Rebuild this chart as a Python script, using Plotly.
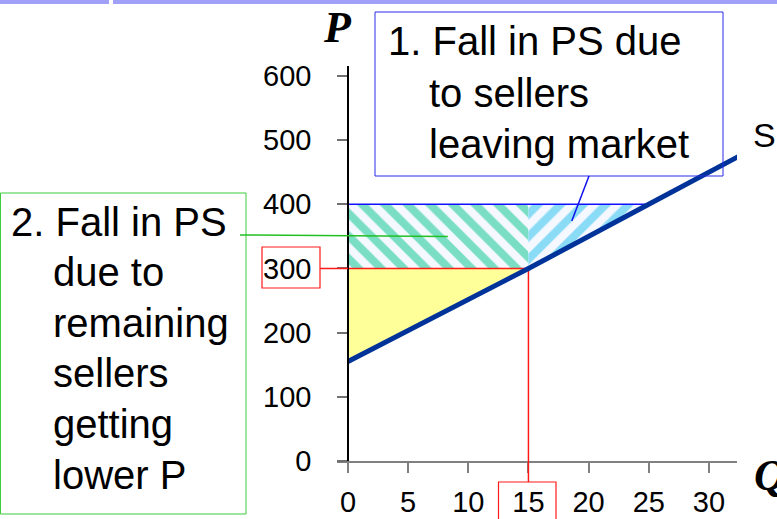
import plotly.graph_objects as go

# ---------------- data ----------------
q_ticks = [0, 5, 10, 15, 20, 25, 30]
p_ticks = [0, 100, 200, 300, 400, 500, 600]

supply_q = [0, 15, 25, 33.3]
supply_p = [155, 300, 400, 483]

q_new, p_new = 15, 300      # remaining quantity / new price
q_old, p_old = 25, 400      # old quantity / old price

green_text = ["2. Fall in PS", "due to", "remaining", "sellers", "getting", "lower P"]
blue_text = ["1. Fall in PS due", "to sellers", "leaving market"]

# ---------------- geometry ----------------
W, H = 777, 519
L, R, T, B = 337, 40, 66, 58
PW, PH = W - L - R, H - T - B
PX_PER_Q = 12.03
PX_PER_P = 0.6417
XMIN = -11 / PX_PER_Q
XMAX = XMIN + PW / PX_PER_Q
YMIN = 0
YMAX = PH / PX_PER_P


def px_x(px):
    return (px - L) / PW


def px_y(py):
    return (H - B - py) / PH


def dx(q):
    return (q - XMIN) / (XMAX - XMIN)


def dy(p):
    return (p - YMIN) / (YMAX - YMIN)


FONT = "Liberation Sans"
SERIF = "Liberation Serif"
GREEN = "#3ccc3c"
BLUE = "#2a2ae6"
RED = "#ff1a1a"

fig = go.Figure()

# yellow: remaining PS
fig.add_trace(go.Scatter(
    x=[0, 0, q_new, 0], y=[supply_p[0], p_new, p_new, supply_p[0]],
    fill="toself", fillcolor="#ffff99", line=dict(width=0), mode="lines",
    hoverinfo="skip"))

# green hatched rectangle
fig.add_trace(go.Scatter(
    x=[0, q_new, q_new, 0, 0], y=[p_new, p_new, p_old, p_old, p_new],
    fill="toself", fillcolor="rgba(0,0,0,0)", line=dict(width=0), mode="lines",
    fillpattern=dict(shape="\\", fgcolor="#00c389", bgcolor="#f5f8ff",
                     size=16, solidity=0.5),
    hoverinfo="skip"))

# cyan hatched triangle
fig.add_trace(go.Scatter(
    x=[q_new, q_new, q_old, q_new], y=[p_new, p_old, p_old, p_new],
    fill="toself", fillcolor="rgba(0,0,0,0)", line=dict(width=0), mode="lines",
    fillpattern=dict(shape="/", fgcolor="#20c0ee", bgcolor="#f5f8ff",
                     size=16, solidity=0.5),
    hoverinfo="skip"))

# old price line
fig.add_trace(go.Scatter(x=[0, q_old], y=[p_old, p_old], mode="lines",
                         line=dict(color="#1010ff", width=1.5), hoverinfo="skip"))

# red guide lines
fig.add_trace(go.Scatter(x=[0, q_new, q_new], y=[p_new, p_new, 0], mode="lines",
                         line=dict(color=RED, width=1.5), hoverinfo="skip"))

# supply
fig.add_trace(go.Scatter(x=supply_q, y=supply_p, mode="lines",
                         line=dict(color="#003399", width=5), hoverinfo="skip"))

shapes = []
# top bar
shapes.append(dict(type="rect", xref="paper", yref="paper",
                   x0=px_x(0), x1=px_x(109), y0=px_y(0), y1=px_y(4),
                   fillcolor="#a0a0f8", line=dict(width=0), layer="above"))
shapes.append(dict(type="rect", xref="paper", yref="paper",
                   x0=px_x(113), x1=px_x(777), y0=px_y(0), y1=px_y(4),
                   fillcolor="#a0a0f8", line=dict(width=0), layer="above"))
# green box and leader
shapes.append(dict(type="rect", xref="paper", yref="paper",
                   x0=px_x(0.5), x1=px_x(246), y0=px_y(193), y1=px_y(514),
                   line=dict(color=GREEN, width=1)))
shapes.append(dict(type="line", xref="paper", yref="paper",
                   x0=px_x(240), y0=px_y(235), x1=dx(8.3), y1=dy(350),
                   line=dict(color="#22c022", width=1.5)))
# blue box and leader
shapes.append(dict(type="rect", xref="paper", yref="paper",
                   x0=px_x(375), x1=px_x(723), y0=px_y(12), y1=px_y(176),
                   line=dict(color=BLUE, width=1)))
shapes.append(dict(type="line", xref="paper", yref="paper",
                   x0=px_x(589), y0=px_y(176), x1=dx(18.6), y1=dy(374),
                   line=dict(color="#1010ee", width=1.5)))
# red boxes and connectors
shapes.append(dict(type="rect", xref="paper", yref="paper",
                   x0=px_x(262), x1=px_x(320), y0=px_y(247), y1=px_y(288),
                   line=dict(color=RED, width=1.2)))
shapes.append(dict(type="line", xref="paper", yref="paper",
                   x0=px_x(320), x1=dx(0), y0=dy(p_new), y1=dy(p_new),
                   line=dict(color=RED, width=1.5)))
shapes.append(dict(type="rect", xref="paper", yref="paper",
                   x0=px_x(498.5), x1=px_x(556), y0=px_y(482), y1=px_y(525),
                   line=dict(color=RED, width=1.2)))
shapes.append(dict(type="line", xref="paper", yref="paper",
                   x0=dx(q_new), x1=dx(q_new), y0=dy(0), y1=px_y(482),
                   line=dict(color=RED, width=1.5)))

annotations = []
# one annotation per text line so that line spacing matches
green_x = [10] + [52] * 5
green_y = [221.5 + 50.6 * i for i in range(6)]
for s, x0, y0 in zip(green_text, green_x, green_y):
    annotations.append(dict(xref="paper", yref="paper", x=px_x(x0), y=px_y(y0),
                            xanchor="left", yanchor="middle", showarrow=False,
                            borderpad=0, text=s,
                            font=dict(family=FONT, size=40, color="black")))
blue_x = [387, 428, 428]
blue_y = [41 + 51.5 * i for i in range(3)]
for s, x0, y0 in zip(blue_text, blue_x, blue_y):
    annotations.append(dict(xref="paper", yref="paper", x=px_x(x0), y=px_y(y0),
                            xanchor="left", yanchor="middle", showarrow=False,
                            borderpad=0, text=s,
                            font=dict(family=FONT, size=40, color="black")))

annotations += [
    dict(xref="paper", yref="paper", x=px_x(337), y=px_y(28),
         xanchor="center", yanchor="middle", showarrow=False,
         text="<b><i>P</i></b>", font=dict(family=SERIF, size=44, color="black")),
    dict(xref="paper", yref="paper", x=px_x(752), y=px_y(475),
         xanchor="left", yanchor="middle", showarrow=False,
         text="<b><i>Q</i></b>", font=dict(family=SERIF, size=44, color="black")),
    dict(xref="paper", yref="paper", x=px_x(751), y=px_y(135),
         xanchor="left", yanchor="middle", showarrow=False,
         text="S", font=dict(family=FONT, size=34, color="black")),
]

fig.update_layout(
    width=W, height=H, autosize=False,
    margin=dict(l=L, r=R, t=T, b=B, pad=0, autoexpand=False),
    plot_bgcolor="white", paper_bgcolor="white",
    showlegend=False, hovermode=False,
    shapes=shapes, annotations=annotations,
    xaxis=dict(range=[XMIN, XMAX], tickvals=q_ticks, showgrid=False, zeroline=False,
               showline=True, linecolor="#808080", linewidth=2, automargin=False,
               ticks="outside", ticklen=10, tickwidth=1.5, tickcolor="#808080",
               tickfont=dict(family=FONT, size=29, color="black"),
               ticklabelstandoff=4),
    yaxis=dict(range=[YMIN, YMAX], tickvals=p_ticks, showgrid=False, zeroline=False,
               anchor="free", position=dx(0), automargin=False,
               showline=True, linecolor="black", linewidth=1.5,
               ticks="outside", ticklen=10, tickwidth=1.5, tickcolor="#707070",
               tickfont=dict(family=FONT, size=29, color="black"),
               ticklabelstandoff=20),
)

fig.write_html("out.html", config={"responsive": False, "displayModeBar": False},
               post_script="document.body.style.margin='0px';"
                           "document.body.style.overflow='hidden';")
